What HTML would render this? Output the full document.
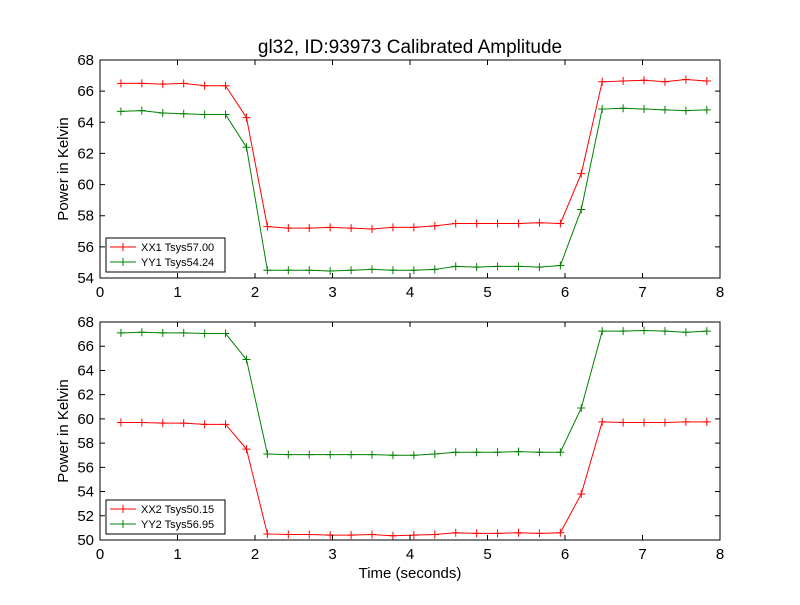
<!DOCTYPE html>
<html><head><meta charset="utf-8"><style>
body{margin:0;background:#fff}
svg text{font-family:"Liberation Sans",sans-serif}
</style></head><body>
<svg id="c" width="800" height="600" xmlns="http://www.w3.org/2000/svg">
<rect width="800" height="600" fill="#fff"/>
<text x="410" y="53" font-size="19" text-anchor="middle">gl32, ID:93973 Calibrated Amplitude</text>
<g id="g1"></g><g id="g2"></g>
<text x="410" y="578" font-size="15" text-anchor="middle">Time (seconds)</text>
</svg>
<script>
const times=[0.27,0.54,0.81,1.08,1.35,1.62,1.89,2.16,2.43,2.7,2.97,3.24,3.51,3.78,4.05,4.32,4.59,4.86,5.13,5.40,5.67,5.94,6.21,6.48,6.75,7.02,7.29,7.56,7.83];
const xx1=[66.5,66.5,66.45,66.5,66.35,66.35,64.3,57.3,57.2,57.2,57.25,57.2,57.15,57.25,57.25,57.35,57.5,57.5,57.5,57.5,57.55,57.5,60.7,66.6,66.65,66.7,66.6,66.75,66.65];
const yy1=[64.7,64.75,64.6,64.55,64.5,64.5,62.4,54.5,54.5,54.5,54.45,54.5,54.55,54.5,54.5,54.55,54.75,54.7,54.75,54.75,54.7,54.8,58.4,64.85,64.9,64.85,64.8,64.75,64.8];
const xx2=[59.7,59.7,59.65,59.65,59.55,59.55,57.5,50.5,50.45,50.45,50.4,50.4,50.45,50.35,50.4,50.45,50.6,50.55,50.55,50.6,50.55,50.6,53.8,59.75,59.7,59.7,59.7,59.75,59.75];
const yy2=[67.1,67.15,67.1,67.1,67.05,67.05,64.9,57.1,57.05,57.05,57.05,57.05,57.05,57.0,57.0,57.1,57.25,57.25,57.25,57.3,57.25,57.25,60.9,67.25,67.25,67.3,67.25,67.15,67.25];
const xTicks=[0,1,2,3,4,5,6,7,8];
const yTicks1=[54,56,58,60,62,64,66,68];
const yTicks2=[50,52,54,56,58,60,62,64,66,68];
const NS="http://www.w3.org/2000/svg";
function mk(p,t,a){const e=document.createElementNS(NS,t);for(const k in a)e.setAttribute(k,a[k]);p.appendChild(e);return e;}
function panel(g,top,bot,ymin,ymax,yTicks,series,key){
  const L=100,R=720;
  const sx=v=>L+(v-0)/(8-0)*(R-L);
  const sy=v=>bot-(v-ymin)/(ymax-ymin)*(bot-top);
  for(const s of series){
    const pts=times.map((t,i)=>sx(t)+","+sy(s.vals[i])).join(" ");
    const pl=mk(g,"polyline",{points:pts,fill:"none",stroke:s.color,"stroke-width":1});
    
    
    times.forEach((t,i)=>{
      const x=sx(t),y=sy(s.vals[i]);
      const m=mk(g,"path",{d:`M${x-4},${y}H${x+4}M${x},${y-4}V${y+4}`,stroke:s.color,"stroke-width":1});
      
      
    });
  }
  const fr=mk(g,"rect",{x:L,y:top,width:R-L,height:bot-top,fill:"none",stroke:"#000","stroke-width":1});
  
  
  xTicks.forEach(v=>{
    const x=sx(v);
    mk(g,"path",{d:`M${x},${bot}v-5M${x},${top}v5`,stroke:"#000"});
    const t=mk(g,"text",{x:x,y:bot+19,"font-size":15,"text-anchor":"middle"});t.textContent=v;
    
    
  });
  yTicks.forEach(v=>{
    const y=sy(v);
    mk(g,"path",{d:`M${L},${y}h5M${R},${y}h-5`,stroke:"#000"});
    const t=mk(g,"text",{x:L-6,y:y+5,"font-size":15,"text-anchor":"end"});t.textContent=v;
    
    
  });
  const yt=mk(g,"text",{x:0,y:0,"font-size":15,"text-anchor":"middle",transform:`translate(68,${(top+bot)/2}) rotate(-90)`});
  yt.textContent="Power in Kelvin";
  
  
  const lg=mk(g,"g",{});
  
  
  mk(lg,"rect",{x:106,y:bot-40,width:119,height:34,fill:"#fff",stroke:"#000"});
  series.forEach((s,i)=>{
    const y=bot-31+i*15;
    mk(lg,"path",{d:`M110,${y}h26M123,${y-4}v8`,stroke:s.color});
    const t=mk(lg,"text",{x:141,y:y+4,"font-size":11});t.textContent=s.label;
    
    
  });
}
panel(document.getElementById("g1"),60,278,54,68,yTicks1,[{vals:xx1,color:"#ff0000",name:"xx1",label:"XX1 Tsys57.00"},{vals:yy1,color:"#008000",name:"yy1",label:"YY1 Tsys54.24"}],"top");
panel(document.getElementById("g2"),322,540,50,68,yTicks2,[{vals:xx2,color:"#ff0000",name:"xx2",label:"XX2 Tsys50.15"},{vals:yy2,color:"#008000",name:"yy2",label:"YY2 Tsys56.95"}],"bottom");
</script>
</body></html>
